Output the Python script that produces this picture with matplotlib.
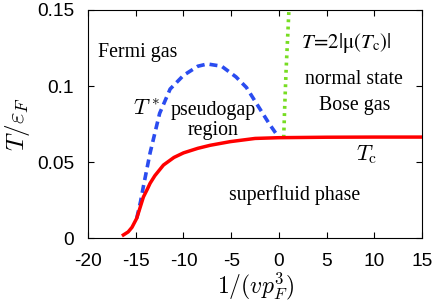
import matplotlib
matplotlib.use("Agg")
import matplotlib.pyplot as plt

plt.rcParams['mathtext.fontset'] = 'cm'
plt.rcParams['axes.unicode_minus'] = False

# Tc curve
tc_x = [-16.3, -15.8, -15.4, -14.9, -14.5, -14.2, -13.8, -13.5, -13.0, -12.1, -11.0, -10.0, -8.5, -7.2, -5.1, -2.5, 0.0, 5.0, 10.0, 15.0]
tc_y = [0.002, 0.004, 0.007, 0.013, 0.021, 0.027, 0.032, 0.036, 0.041, 0.048, 0.053, 0.056, 0.059, 0.061, 0.0634, 0.0655, 0.066, 0.0663, 0.0664, 0.0664]
# T* curve
ts_x = [-14.9, -14.5, -14.2, -13.5, -12.5, -11.4, -10.0, -8.5, -7.5, -6.0, -4.5, -3.4, -2.2, -1.0, 0.0]
ts_y = [0.013, 0.024, 0.034, 0.056, 0.082, 0.098, 0.107, 0.113, 0.1145, 0.113, 0.106, 0.099, 0.087, 0.075, 0.066]
# T = 2|mu(Tc)|
mu_x = [0.5, 0.6, 0.75, 0.9, 1.05]
mu_y = [0.066, 0.085, 0.11, 0.13, 0.15]

xticks = [-20, -15, -10, -5, 0, 5, 10, 15]
yticks = [0, 0.05, 0.1, 0.15]
yticklabels = ["0", "0.05", "0.1", "0.15"]

fig = plt.figure(figsize=(4.36, 3.03), dpi=100)
ax = fig.add_axes([0.202, 0.2145, 0.766, 0.7525])

ax.plot(ts_x, ts_y, color='#2a4cf0', lw=2.6, ls=(0, (2.2, 1.4)), zorder=3)
ax.plot(mu_x, mu_y, color='#77dd22', lw=2.6, ls=(0, (0.8, 1.2)), zorder=2)
ax.plot(tc_x, tc_y, color='#ff0000', lw=2.5, zorder=4)

ax.set_xlim(-20, 15)
ax.set_ylim(0, 0.15)
ax.set_xticks(xticks)
ax.set_yticks(yticks)
ax.set_yticklabels(yticklabels)
ax.tick_params(direction='in', top=True, right=True, length=4, labelsize=13.8)
for lab in ax.get_xticklabels() + ax.get_yticklabels():
    lab.set_fontfamily('Liberation Sans')
ax.tick_params(axis='x', pad=11)
ax.tick_params(axis='y', pad=10)

ax.set_xlabel(r'$1/(vp_F^3)$', fontsize=17, labelpad=0)
ax.set_ylabel(r'$T/\varepsilon_F$', fontsize=18, labelpad=4)

tf = dict(fontfamily='Liberation Serif', fontsize=14.3)
ax.text(-19.0, 0.122, 'Fermi gas', ha='left', va='center', **tf)
ax.text(-13.9, 0.085, r'$T^*$', ha='center', va='center', fontsize=16)
ax.text(-6.85, 0.084, 'pseudogap', ha='center', va='center', **tf)
ax.text(-6.9, 0.0705, 'region', ha='center', va='center', **tf)
ax.text(7.0, 0.128, r'$T\!=\!2|\mathrm{\mu}(T_\mathrm{c})|$', ha='center', va='center', fontsize=15, math_fontfamily='stix')
ax.text(7.9, 0.104, 'normal state', ha='center', va='center', **tf)
ax.text(7.9, 0.0875, 'Bose gas', ha='center', va='center', **tf)
ax.text(9.25, 0.0546, r'$T_\mathrm{c}$', ha='center', va='center', fontsize=16)
ax.text(1.6, 0.028, 'superfluid phase', ha='center', va='center', **tf)

fig.savefig('out.png', dpi=100)
